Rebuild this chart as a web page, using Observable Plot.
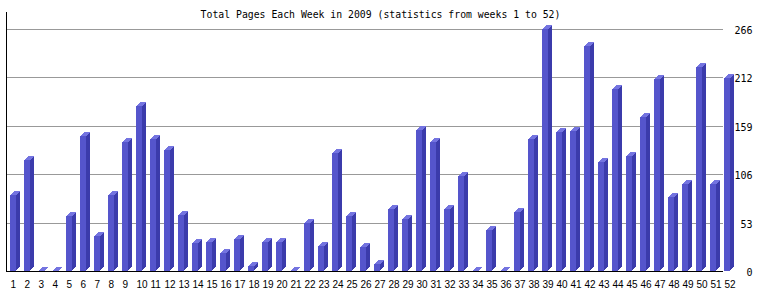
<!DOCTYPE html>
<html><head><meta charset="utf-8">
<script src="https://cdn.jsdelivr.net/npm/d3@7"></script>
<script src="https://cdn.jsdelivr.net/npm/@observablehq/plot@0.6"></script>
<style>
body{margin:0;background:#fff}
svg{shape-rendering:crispEdges}
g[aria-label="ylabels"] text{letter-spacing:1px}
</style></head><body><div id="chart"></div>
<script>
const weeks = d3.range(1, 53);
const pages = [83,122,0,0,61,148,39,83,142,181,145,133,62,31,32,20,35,6,32,32,0,53,27,130,61,26,8,68,57,155,142,68,104,0,45,0,65,145,266,153,154,247,120,200,126,169,211,81,96,224,96,212];
const yTickLabels = ["0","53","106","159","212","266"];
const yMax = 266;
const title = "Total Pages Each Week in 2009 (statistics from weeks 1 to 52)";

const data = weeks.map((w, i) => ({week: w, pages: pages[i]}));
const ticks = yTickLabels.map((t, i) => ({v: i * yMax / 5, label: t}));

const FRONT = "#5555cc", SIDE = "#3b3bab", TOP = "#7474e0";
const W = 717, H = 260;

const marks = [];
marks.push(Plot.ruleY(ticks.slice(1), {y: "v", stroke: "#999"}));
marks.push(Plot.frame({stroke: "#000", strokeDasharray: `0 ${2*W+H} ${H} 0`}));
marks.push(Plot.text(ticks, {y: "v", text: "label", frameAnchor: "right", textAnchor: "end", dx: 29, dy: 1, fontFamily: "DejaVu Sans Mono", fontSize: 10, fill: "#000", ariaLabel: "ylabels"}));
marks.push(Plot.text([title], {frameAnchor: "top", dx: 15.5, dy: -0.5, fontFamily: "DejaVu Sans Mono", fontSize: 9.8, fill: "#000"}));
marks.push(Plot.text(data, {x: "week", text: d => String(d.week), frameAnchor: "bottom", textAnchor: "start", dx: -7, dy: 16, fontFamily: "Liberation Sans", fontSize: 10, fill: "#000"}));
for (const k of [4, 3, 2, 1]) {
  marks.push(Plot.barY(data, {x: "week", y: "pages", fill: SIDE, insetRight: 8, dx: k, dy: -k}));
  marks.push(Plot.barY(data, {x: "week", y1: "pages", y2: "pages", fill: TOP, insetRight: 8, insetTop: -1, dx: k, dy: -(k - 1)}));
}
marks.push(Plot.barY(data, {x: "week", y: "pages", fill: FRONT, insetRight: 8}));
marks.push(Plot.ruleY([0], {stroke: "#000"}));

const chart = Plot.plot({
  width: 760, height: 300,
  marginLeft: 6, marginRight: 37, marginTop: 11, marginBottom: 29,
  x: {type: "band", domain: weeks, range: [10, 738], padding: 0, axis: null},
  y: {domain: [0, yMax], range: [271, 29], round: true, axis: null},
  marks
});
document.getElementById("chart").appendChild(chart);
</script></body></html>
